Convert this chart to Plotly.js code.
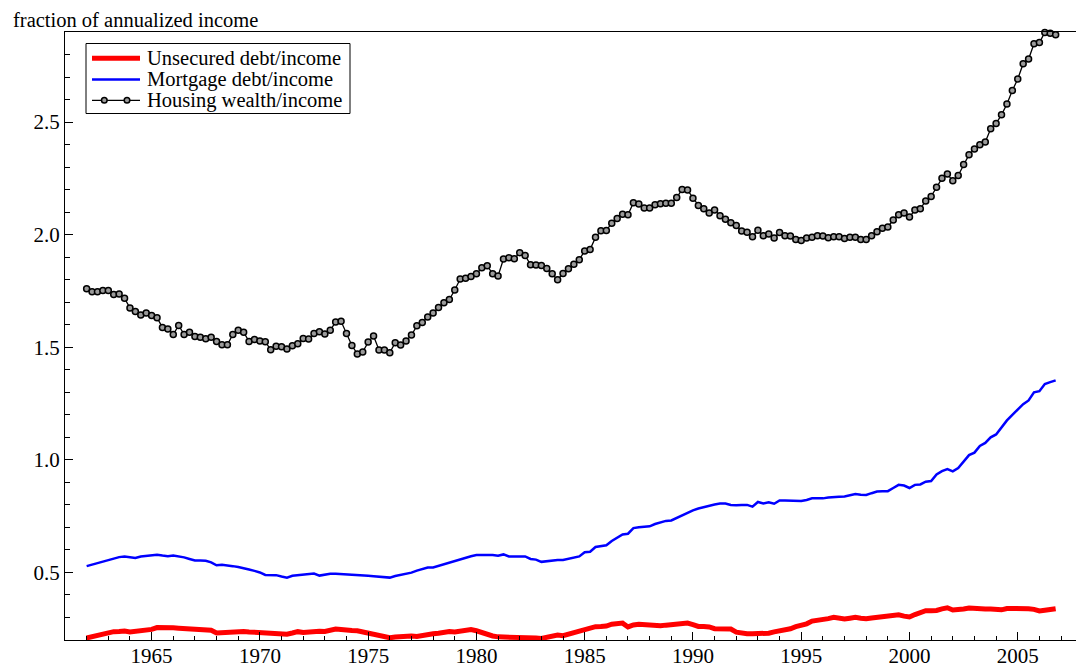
<!DOCTYPE html>
<html>
<head>
<meta charset="utf-8">
<script src="https://cdn.plot.ly/plotly-3.0.1.min.js"></script>
<style>html,body{margin:0;padding:0;background:#fff;}#chart{width:1076px;height:671px;}</style>
</head>
<body>
<div id="chart"></div>
<script>
// Quarterly data, 1962Q1 - 2006Q4
const startYear = 1962;
const seriesNames = ["Unsecured debt/income", "Mortgage debt/income", "Housing wealth/income"];
const yTickVals = [0.5, 1.0, 1.5, 2.0, 2.5];
const xTickVals = [1965, 1970, 1975, 1980, 1985, 1990, 1995, 2000, 2005];

const unsecured = [
0.209,0.215,0.219,0.228,0.232,0.237,0.238,0.240,0.236,0.238,
0.242,0.245,0.247,0.255,0.256,0.255,0.254,0.252,0.250,0.246,
0.244,0.242,0.241,0.243,0.231,0.233,0.236,0.239,0.238,0.238,
0.236,0.234,0.232,0.231,0.230,0.229,0.224,0.226,0.231,0.237,
0.233,0.236,0.240,0.239,0.238,0.245,0.249,0.247,0.243,0.242,
0.241,0.236,0.228,0.222,0.216,0.213,0.210,0.213,0.216,0.219,
0.218,0.216,0.221,0.228,0.228,0.230,0.235,0.238,0.236,0.240,
0.244,0.246,0.241,0.233,0.222,0.218,0.214,0.214,0.213,0.213,
0.213,0.212,0.212,0.209,0.207,0.212,0.216,0.222,0.219,0.226,
0.234,0.240,0.246,0.252,0.259,0.260,0.262,0.270,0.273,0.275,
0.258,0.267,0.270,0.268,0.263,0.263,0.263,0.266,0.268,0.270,
0.273,0.275,0.268,0.260,0.260,0.258,0.250,0.249,0.249,0.249,
0.235,0.229,0.228,0.228,0.228,0.226,0.230,0.236,0.239,0.242,
0.250,0.259,0.263,0.272,0.284,0.287,0.288,0.295,0.301,0.297,
0.293,0.297,0.301,0.297,0.294,0.298,0.301,0.303,0.305,0.309,
0.312,0.306,0.302,0.313,0.322,0.330,0.330,0.331,0.338,0.343,
0.333,0.334,0.338,0.342,0.339,0.338,0.338,0.338,0.334,0.334,
0.340,0.341,0.339,0.339,0.339,0.336,0.329,0.332,0.335,0.339
];

const mortgage = [
0.528,0.535,0.543,0.550,0.556,0.562,0.568,0.571,0.567,0.564,
0.571,0.574,0.575,0.579,0.575,0.572,0.575,0.572,0.567,0.560,
0.553,0.553,0.552,0.545,0.532,0.534,0.532,0.528,0.524,0.520,
0.513,0.507,0.500,0.489,0.489,0.488,0.482,0.477,0.485,0.488,
0.490,0.493,0.495,0.486,0.490,0.494,0.494,0.493,0.490,0.490,
0.489,0.487,0.485,0.483,0.481,0.479,0.477,0.484,0.489,0.494,
0.499,0.508,0.516,0.522,0.522,0.529,0.538,0.546,0.552,0.558,
0.566,0.572,0.577,0.578,0.579,0.577,0.574,0.580,0.571,0.571,
0.572,0.571,0.560,0.557,0.547,0.550,0.552,0.555,0.555,0.560,
0.567,0.571,0.590,0.592,0.613,0.618,0.621,0.640,0.655,0.669,
0.672,0.697,0.701,0.702,0.705,0.715,0.722,0.729,0.731,0.742,
0.754,0.766,0.776,0.784,0.791,0.797,0.802,0.806,0.806,0.800,
0.798,0.800,0.800,0.792,0.813,0.806,0.812,0.805,0.820,0.820,
0.820,0.818,0.817,0.822,0.829,0.830,0.829,0.833,0.836,0.836,
0.837,0.843,0.848,0.845,0.844,0.852,0.859,0.861,0.861,0.875,
0.889,0.886,0.875,0.889,0.891,0.903,0.906,0.935,0.950,0.959,
0.949,0.964,0.995,1.021,1.032,1.062,1.075,1.100,1.113,1.145,
1.175,1.200,1.222,1.247,1.264,1.300,1.305,1.337,1.345,1.353
];

const housing = [
1.760,1.746,1.746,1.752,1.752,1.734,1.737,1.718,1.674,1.659,
1.643,1.652,1.641,1.631,1.588,1.581,1.557,1.597,1.557,1.567,
1.548,1.545,1.538,1.545,1.526,1.511,1.511,1.557,1.575,1.567,
1.526,1.535,1.528,1.525,1.489,1.505,1.502,1.492,1.507,1.516,
1.539,1.537,1.561,1.569,1.559,1.576,1.612,1.615,1.561,1.508,
1.470,1.479,1.523,1.550,1.488,1.488,1.476,1.520,1.510,1.528,
1.554,1.595,1.610,1.634,1.652,1.677,1.698,1.712,1.754,1.803,
1.807,1.814,1.826,1.853,1.862,1.826,1.817,1.892,1.897,1.893,
1.920,1.908,1.866,1.865,1.863,1.850,1.826,1.800,1.828,1.849,
1.869,1.889,1.928,1.934,1.988,2.017,2.019,2.051,2.072,2.091,
2.088,2.142,2.136,2.118,2.118,2.133,2.137,2.140,2.140,2.165,
2.201,2.198,2.162,2.130,2.115,2.096,2.110,2.084,2.069,2.053,
2.041,2.016,2.011,1.991,2.020,1.995,2.003,1.985,2.010,1.995,
1.994,1.979,1.974,1.985,1.988,1.995,1.994,1.986,1.991,1.991,
1.983,1.989,1.988,1.979,1.979,1.995,2.013,2.029,2.034,2.065,
2.088,2.096,2.078,2.109,2.115,2.150,2.170,2.211,2.250,2.269,
2.239,2.263,2.312,2.355,2.380,2.399,2.411,2.470,2.494,2.532,
2.580,2.640,2.691,2.759,2.780,2.848,2.853,2.898,2.895,2.888
];

const quarters = housing.map((_, i) => startYear + i / 4);

const FONT = '"Liberation Serif", "Times New Roman", Times, serif';
const W = 1076, H = 671;
const M = {l: 65, r: 0, t: 32, b: 31};
const PW = W - M.l - M.r, PH = H - M.t - M.b;
const px2x = p => (p - M.l) / PW;
const py2y = p => (H - M.b - p) / PH;

const traces = [
  {x: quarters, y: unsecured, name: seriesNames[0], type: 'scatter', mode: 'lines',
   line: {color: '#ff0000', width: 5}},
  {x: quarters, y: mortgage, name: seriesNames[1], type: 'scatter', mode: 'lines',
   line: {color: '#0000ff', width: 2.5}},
  {x: quarters, y: housing, name: seriesNames[2], type: 'scatter', mode: 'lines+markers',
   line: {color: '#000000', width: 1.3}, cliponaxis: false,
   marker: {symbol: 'circle', size: 6, color: '#9a9a9a', line: {color: '#000', width: 1.5}}}
];

// Legend drawn as shapes + annotations (pixel positions converted to paper coords)
const legRows = [58.3, 79.5, 100.3];
const shapes = [
  {type: 'rect', xref: 'paper', yref: 'paper', x0: px2x(86), x1: px2x(350), y0: py2y(113.5), y1: py2y(43.5),
   line: {color: '#000', width: 1}, fillcolor: '#fff', layer: 'above'},
  {type: 'line', xref: 'paper', yref: 'paper', x0: px2x(92), x1: px2x(140), y0: py2y(legRows[0]), y1: py2y(legRows[0]),
   line: {color: '#ff0000', width: 5}, layer: 'above'},
  {type: 'line', xref: 'paper', yref: 'paper', x0: px2x(92), x1: px2x(140), y0: py2y(legRows[1]), y1: py2y(legRows[1]),
   line: {color: '#0000ff', width: 2.5}, layer: 'above'},
  {type: 'line', xref: 'paper', yref: 'paper', x0: px2x(92), x1: px2x(140), y0: py2y(legRows[2]), y1: py2y(legRows[2]),
   line: {color: '#000', width: 1.3}, layer: 'above'}
];
[104.3, 127].forEach(cx => {
  shapes.push({type: 'circle', xref: 'paper', yref: 'paper',
    x0: px2x(cx - 2.8), x1: px2x(cx + 2.8), y0: py2y(legRows[2] + 2.8), y1: py2y(legRows[2] - 2.8),
    line: {color: '#000', width: 1.5}, fillcolor: '#9a9a9a', layer: 'above'});
});

const annotations = seriesNames.map((n, k) => ({
  text: n, xref: 'paper', yref: 'paper', x: px2x(146), y: py2y(legRows[k]),
  xanchor: 'left', yanchor: 'middle', showarrow: false, borderpad: 0,
  font: {family: FONT, size: 20.5, color: '#000'}
}));
annotations.push({
  text: 'fraction of annualized income', xref: 'paper', yref: 'paper',
  x: px2x(11), y: py2y(20), xanchor: 'left', yanchor: 'middle', showarrow: false,
  font: {family: FONT, size: 20.5, color: '#000'}
});

const layout = {
  width: W, height: H,
  margin: M,
  paper_bgcolor: '#fff', plot_bgcolor: '#fff',
  showlegend: false,
  font: {family: FONT, size: 21, color: '#000'},
  xaxis: {
    range: [1961.0, 2007.69], showgrid: false, zeroline: false,
    showline: true, linecolor: '#000', linewidth: 1, mirror: true,
    ticks: 'inside', ticklen: 8, tickwidth: 1, tickcolor: '#000',
    tickvals: xTickVals, ticktext: xTickVals.map(String),
    ticklabelstandoff: -3,
    tickfont: {family: FONT, size: 21, color: '#000'},
    minor: {dtick: 1, tick0: 1961, ticks: 'inside', ticklen: 4, tickwidth: 1, tickcolor: '#000', showgrid: false}
  },
  yaxis: {
    range: [0.2, 2.9], showgrid: false, zeroline: false,
    showline: true, linecolor: '#000', linewidth: 1, mirror: false,
    ticks: 'inside', ticklen: 8, tickwidth: 1, tickcolor: '#000',
    tickvals: yTickVals, ticktext: yTickVals.map(v => v.toFixed(1)),
    tickfont: {family: FONT, size: 21, color: '#000'},
    minor: {dtick: 0.1, tick0: 0.2, ticks: 'inside', ticklen: 5, tickwidth: 1, tickcolor: '#000', showgrid: false}
  },
  shapes: shapes,
  annotations: annotations
};

Plotly.newPlot('chart', traces, layout, {displayModeBar: false, staticPlot: true});
</script>
</body>
</html>
